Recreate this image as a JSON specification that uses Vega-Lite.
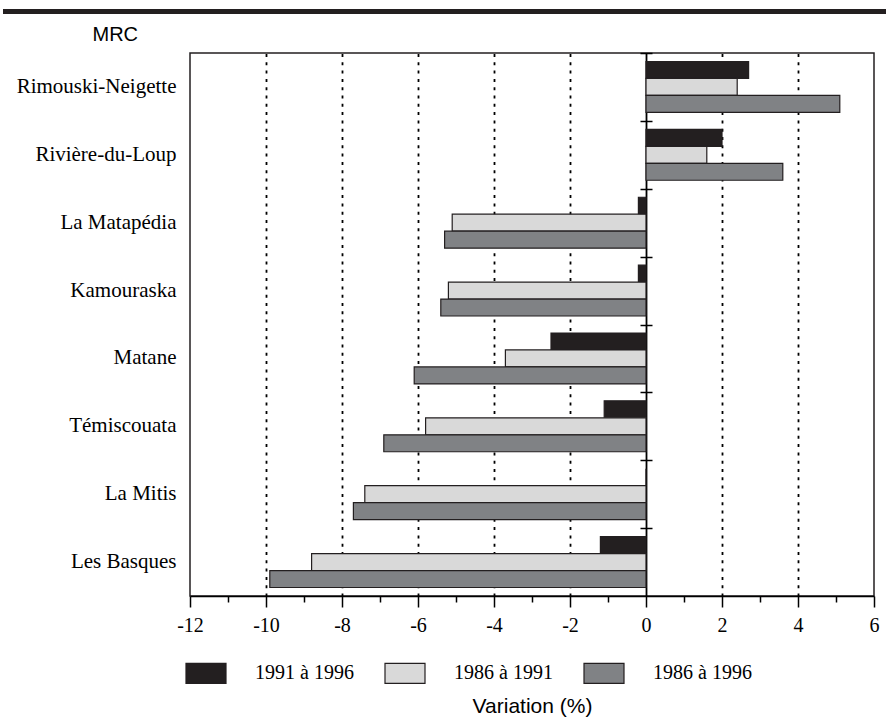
{
  "$schema": "https://vega.github.io/schema/vega-lite/v6.json",
  "width": 684,
  "height": 543,
  "autosize": {"type": "none"},
  "padding": {"left": 190, "top": 53, "right": 12, "bottom": 132},
  "background": "white",
  "config": {
    "font": "Liberation Serif",
    "view": {"stroke": "#231f20", "strokeWidth": 1.5},
    "axis": {"labelFont": "Liberation Serif", "titleFont": "Liberation Sans"},
    "legend": {"labelFont": "Liberation Serif"}
  },
  "data": {
    "values": [
      {"MRC": "Rimouski-Neigette", "periode": "1991 à 1996", "variation": 2.7},
      {"MRC": "Rimouski-Neigette", "periode": "1986 à 1991", "variation": 2.4},
      {"MRC": "Rimouski-Neigette", "periode": "1986 à 1996", "variation": 5.1},
      {"MRC": "Rivière-du-Loup", "periode": "1991 à 1996", "variation": 2.0},
      {"MRC": "Rivière-du-Loup", "periode": "1986 à 1991", "variation": 1.6},
      {"MRC": "Rivière-du-Loup", "periode": "1986 à 1996", "variation": 3.6},
      {"MRC": "La Matapédia", "periode": "1991 à 1996", "variation": -0.2},
      {"MRC": "La Matapédia", "periode": "1986 à 1991", "variation": -5.1},
      {"MRC": "La Matapédia", "periode": "1986 à 1996", "variation": -5.3},
      {"MRC": "Kamouraska", "periode": "1991 à 1996", "variation": -0.2},
      {"MRC": "Kamouraska", "periode": "1986 à 1991", "variation": -5.2},
      {"MRC": "Kamouraska", "periode": "1986 à 1996", "variation": -5.4},
      {"MRC": "Matane", "periode": "1991 à 1996", "variation": -2.5},
      {"MRC": "Matane", "periode": "1986 à 1991", "variation": -3.7},
      {"MRC": "Matane", "periode": "1986 à 1996", "variation": -6.1},
      {"MRC": "Témiscouata", "periode": "1991 à 1996", "variation": -1.1},
      {"MRC": "Témiscouata", "periode": "1986 à 1991", "variation": -5.8},
      {"MRC": "Témiscouata", "periode": "1986 à 1996", "variation": -6.9},
      {"MRC": "La Mitis", "periode": "1991 à 1996", "variation": 0},
      {"MRC": "La Mitis", "periode": "1986 à 1991", "variation": -7.4},
      {"MRC": "La Mitis", "periode": "1986 à 1996", "variation": -7.7},
      {"MRC": "Les Basques", "periode": "1991 à 1996", "variation": -1.2},
      {"MRC": "Les Basques", "periode": "1986 à 1991", "variation": -8.8},
      {"MRC": "Les Basques", "periode": "1986 à 1996", "variation": -9.9}
    ]
  },
  "layer": [
    {
      "mark": {"type": "bar", "stroke": "#231f20", "strokeWidth": 1.2},
      "encoding": {
        "y": {
          "field": "MRC", "type": "nominal",
          "sort": ["Rimouski-Neigette", "Rivière-du-Loup", "La Matapédia", "Kamouraska", "Matane", "Témiscouata", "La Mitis", "Les Basques"],
          "scale": {"paddingInner": 0.25, "paddingOuter": 0.125},
          "axis": {
            "orient": "left", "ticks": false, "tickSize": 0, "domain": false, "grid": false,
            "labelFont": "Liberation Serif", "labelFontSize": 21, "labelColor": "black", "labelPadding": 14, "labelLimit": 300,
            "title": "MRC", "titleFont": "Liberation Sans", "titleFontSize": 20, "titleFontWeight": "normal", "titleColor": "black",
            "titleAngle": 0, "titleAlign": "left", "titleBaseline": "middle", "titleX": -98, "titleY": -19
          }
        },
        "yOffset": {
          "field": "periode", "type": "nominal",
          "sort": ["1991 à 1996", "1986 à 1991", "1986 à 1996"],
          "scale": {"paddingInner": 0, "paddingOuter": 0}
        },
        "x": {
          "field": "variation", "type": "quantitative",
          "scale": {"domain": [-12, 6], "nice": false},
          "axis": {
            "orient": "bottom",
            "values": [-12, -11, -10, -9, -8, -7, -6, -5, -4, -3, -2, -1, 0, 1, 2, 3, 4, 5, 6],
            "labelExpr": "datum.value % 2 === 0 ? '' + datum.value : ''",
            "tickSize": {"condition": {"test": "datum.value % 2 !== 0", "value": 6}, "value": 11},
            "tickColor": "black", "tickWidth": 1.5,
            "domainColor": "black", "domainWidth": 1.5,
            "labelFont": "Liberation Serif", "labelFontSize": 20, "labelColor": "black", "labelPadding": 8,
            "labelFlush": false, "labelOverlap": false,
            "grid": true, "gridColor": "black", "gridWidth": 1.8,
            "gridDash": {"condition": {"test": "datum.value === 0", "value": [1, 0]}, "value": [3, 5.3]},
            "gridOpacity": {"condition": {"test": "datum.value % 2 !== 0 || datum.value === -12 || datum.value === 6", "value": 0}, "value": 1},
            "title": "Variation (%)", "titleFont": "Liberation Sans", "titleFontSize": 21, "titleFontWeight": "normal", "titleColor": "black",
            "titleBaseline": "middle", "titleY": 110, "titleX": 342
          }
        },
        "x2": {"datum": 0},
        "color": {
          "field": "periode", "type": "nominal",
          "scale": {"domain": ["1991 à 1996", "1986 à 1991", "1986 à 1996"], "range": ["#231f20", "#d9d9d9", "#808285"]},
          "legend": {
            "orient": "none", "legendX": -5, "legendY": 599, "direction": "horizontal", "title": null,
            "symbolType": "M-1,-0.5H1V0.5H-1Z", "symbolSize": 1600,
            "symbolStrokeColor": "#231f20", "symbolStrokeWidth": 1.2, "symbolOpacity": 1,
            "labelFont": "Liberation Serif", "labelFontSize": 20, "labelColor": "black", "labelOffset": 28, "labelLimit": 300,
            "columnPadding": 28, "padding": 0
          }
        }
      }
    },
    {
      "mark": {"type": "bar", "opacity": 0},
      "encoding": {
        "x": {"datum": 0, "type": "quantitative", "axis": null},
        "y": {
          "field": "MRC", "type": "nominal",
          "sort": ["Rimouski-Neigette", "Rivière-du-Loup", "La Matapédia", "Kamouraska", "Matane", "Témiscouata", "La Mitis", "Les Basques"],
          "scale": {"paddingInner": 0.25, "paddingOuter": 0.125},
          "axis": {
            "orient": "left", "offset": -462, "domain": false, "labels": false, "grid": false, "title": null,
            "ticks": true, "tickSize": 12, "tickColor": "black", "tickWidth": 1.5, "bandPosition": 0, "tickOffset": -8.48
          }
        }
      }
    },
    {
      "mark": {"type": "rule", "stroke": "#231f20", "strokeWidth": 5, "clip": false},
      "encoding": {
        "x": {"datum": -16.9, "type": "quantitative", "axis": null},
        "x2": {"datum": 6.32},
        "y": {"datum": 1.0764, "type": "quantitative", "scale": {"domain": [0, 1], "nice": false, "zero": false}, "axis": null}
      }
    }
  ],
  "resolve": {"axis": {"x": "independent", "y": "independent"}, "scale": {"y": "independent"}}
}
